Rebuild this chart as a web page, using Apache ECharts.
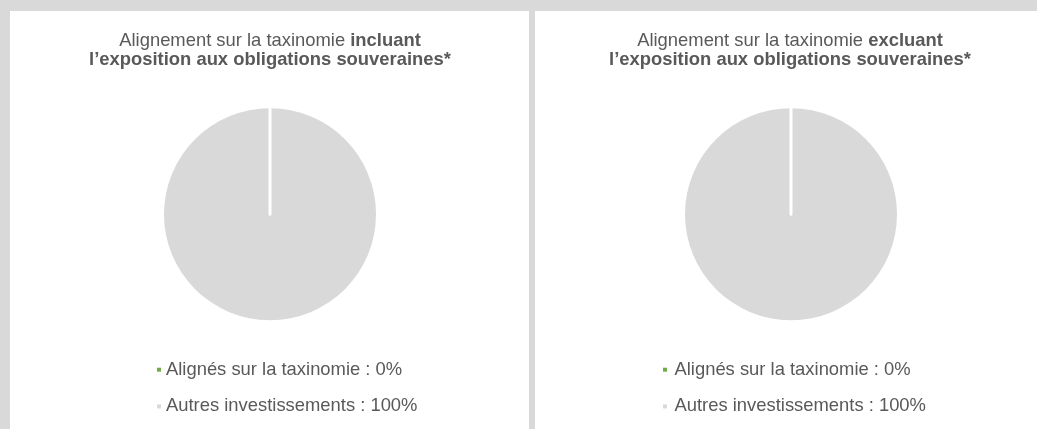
<!DOCTYPE html>
<html>
<head>
<meta charset="utf-8">
<script src="https://cdn.jsdelivr.net/npm/echarts@6/dist/echarts.min.js"></script>
<style>
  html, body { margin: 0; padding: 0; background: #d9d9d9; }
  #chart { width: 1037px; height: 429px; }
</style>
</head>
<body>
<div id="chart"></div>
<script>
// ---- Data ----
const categories = ['Alignés sur la taxinomie', 'Autres investissements'];
const incluantValues = [0, 100];
const excluantValues = [0, 100];
const titleLeftRegular = 'Alignement sur la taxinomie ';
const titleLeftBold = 'incluant';
const titleRightRegular = 'Alignement sur la taxinomie ';
const titleRightBold = 'excluant';
const titleSecondLine = 'l’exposition aux obligations souveraines*';

// ---- Styles ----
const FONT = 'Arial, "Liberation Sans", Helvetica, sans-serif';
const TEXT = '#595959';
const colors = ['#70ad47', '#d9d9d9'];
const FS = 18.4;

const valueMap = {};
categories.forEach((c, i) => { valueMap[c] = incluantValues[i]; });

function pieData(values) {
  // draw the big slice first so the zero slice's separator line stays on top
  const items = categories.map((c, i) => ({
    name: c,
    value: values[i],
    itemStyle: i === 0
      ? { color: colors[i], borderColor: '#ffffff', borderWidth: 3 }
      : { color: colors[i], borderWidth: 0 }
  }));
  return items.slice().reverse();
}

function makeTitle(x, reg, bold) {
  return {
    left: x,
    top: 31.5,
    padding: 0,
    textAlign: 'center',
    text: '{n|' + reg + '}{b|' + bold + '}\n{b|' + titleSecondLine + '}',
    textStyle: {
      rich: {
        n: { fontFamily: FONT, fontSize: FS, color: TEXT, fontWeight: 'normal', lineHeight: 19 },
        b: { fontFamily: FONT, fontSize: FS, color: TEXT, fontWeight: 'bold', lineHeight: 19 }
      }
    }
  };
}

function makeLegend(x, pad) {
  return {
    orient: 'vertical',
    left: x,
    top: 360.7,
    padding: 0,
    itemGap: 18.7,
    icon: 'rect',
    itemWidth: 4,
    itemHeight: 4,
    selectedMode: false,
    data: categories,
    itemStyle: { borderWidth: 0 },
    formatter: name => name + ' : ' + valueMap[name] + '%',
    textStyle: { fontFamily: FONT, fontSize: FS, color: TEXT, lineHeight: 18, padding: [0, 0, 0, pad] }
  };
}

function makePie(cx, values) {
  return {
    type: 'pie',
    center: [cx, 214.2],
    radius: [0, 106],
    startAngle: 90,
    clockwise: true,
    silent: true,
    animation: false,
    label: { show: false },
    labelLine: { show: false },
    emphasis: { disabled: true },
    data: pieData(values)
  };
}

const chart = echarts.init(document.getElementById('chart'), null, { renderer: 'canvas' });
chart.setOption({
  backgroundColor: '#d9d9d9',
  animation: false,
  graphic: [
    { type: 'rect', z: -10, silent: true, shape: { x: 10, y: 11, width: 519, height: 430 }, style: { fill: '#ffffff' } },
    { type: 'rect', z: -10, silent: true, shape: { x: 535, y: 11, width: 520, height: 430 }, style: { fill: '#ffffff' } }
  ],
  title: [
    makeTitle(270, titleLeftRegular, titleLeftBold),
    makeTitle(790, titleRightRegular, titleRightBold)
  ],
  legend: [
    makeLegend(157, 0),
    makeLegend(663, 2.5)
  ],
  series: [
    makePie(270, incluantValues),
    makePie(791, excluantValues)
  ]
});
</script>
</body>
</html>
